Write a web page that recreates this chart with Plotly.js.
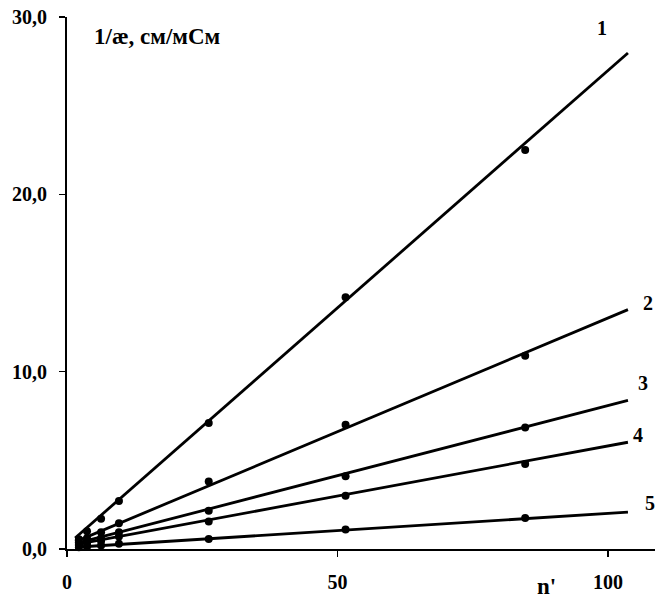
<!DOCTYPE html>
<html>
<head>
<meta charset="utf-8">
<script src="https://cdn.plot.ly/plotly-3.0.1.min.js"></script>
<style>html,body{margin:0;padding:0;background:#fff;}#chart{width:656px;height:603px;}</style>
</head>
<body>
<div id="chart"></div>
<script>
// measured points
const nPrime = [2.2, 3.7, 6.3, 9.6, 26.2, 51.5, 84.7];
const series1 = [0.55, 1.0, 1.7, 2.7, 7.1, 14.2, 22.5];
const series2 = [0.35, 0.6, 0.95, 1.45, 3.8, 7.0, 10.9];
const series3 = [0.25, 0.4, 0.6, 0.95, 2.15, 4.1, 6.85];
const series4 = [0.2, 0.3, 0.45, 0.7, 1.55, 3.0, 4.8];
const series5 = [0.1, 0.12, 0.2, 0.3, 0.56, 1.1, 1.75];
// fitted straight lines (end points)
const fitX = [1.5, 103.7];
const fit1 = [0.62, 27.97];
const fit2 = [0.4, 13.5];
const fit3 = [0.3, 8.38];
const fit4 = [0.25, 6.02];
const fit5 = [0.1, 2.08];
const seriesLabels = ['1', '2', '3', '4', '5'];
const labelX = [98.9, 107.4, 106.5, 105.5, 107.8];
const labelY = [29.4, 13.9, 9.36, 6.43, 2.6];
const yTitle = '1/æ, см/мСм';
const xTitle = "n'";
const yTicks = [0, 10, 20, 30];
const xTicks = [0, 50, 100];

const pts = [series1, series2, series3, series4, series5];
const fits = [fit1, fit2, fit3, fit4, fit5];
const traces = [];
fits.forEach(f => traces.push({x: fitX, y: f, mode: 'lines', line: {color: '#000', width: 2.8}, hoverinfo: 'skip'}));
pts.forEach(p => traces.push({x: nPrime, y: p, mode: 'markers', marker: {color: '#000', size: 8}, cliponaxis: false}));

const fam = 'Liberation Serif, Times New Roman, serif';
const font = {family: fam, size: 20, color: '#000', weight: 'bold'};
const titleFont = {family: fam, size: 23, color: '#000', weight: 'bold'};
const annotations = seriesLabels.map((t, i) => ({
  x: labelX[i], y: labelY[i], xref: 'x', yref: 'y', text: '<b>' + t + '</b>', showarrow: false,
  font: font, xanchor: 'center', yanchor: 'middle'
}));
annotations.push({x: 4.6, y: 28.9, xref: 'x', yref: 'y', text: '<b>' + yTitle + '</b>', showarrow: false,
  font: titleFont, xanchor: 'left', yanchor: 'middle'});
annotations.push({x: 88.7, y: -0.071, xref: 'x', yref: 'paper', text: '<b>' + xTitle + '</b>', showarrow: false,
  font: titleFont, xanchor: 'center', yanchor: 'middle'});

const layout = {
  width: 656, height: 603,
  margin: {l: 67, r: 1, t: 17, b: 54},
  paper_bgcolor: '#fff', plot_bgcolor: '#fff',
  showlegend: false,
  separators: ',.',
  font: font,
  xaxis: {
    range: [0, 108.7], tickvals: xTicks, ticks: 'outside', ticklen: 6, tickwidth: 1.5, tickcolor: '#000',
    showline: true, linecolor: '#000', linewidth: 2, showgrid: false, zeroline: false,
    tickfont: font, ticklabelstandoff: 8
  },
  yaxis: {
    range: [0, 30], tickvals: yTicks, tickformat: '.1f', ticks: 'outside', ticklen: 6, tickwidth: 1.5, tickcolor: '#000',
    showline: true, linecolor: '#000', linewidth: 2, showgrid: false, zeroline: false,
    tickfont: font, ticklabelstandoff: 8
  },
  annotations: annotations
};
Plotly.newPlot('chart', traces, layout, {displayModeBar: false, staticPlot: true});
</script>
</body>
</html>
